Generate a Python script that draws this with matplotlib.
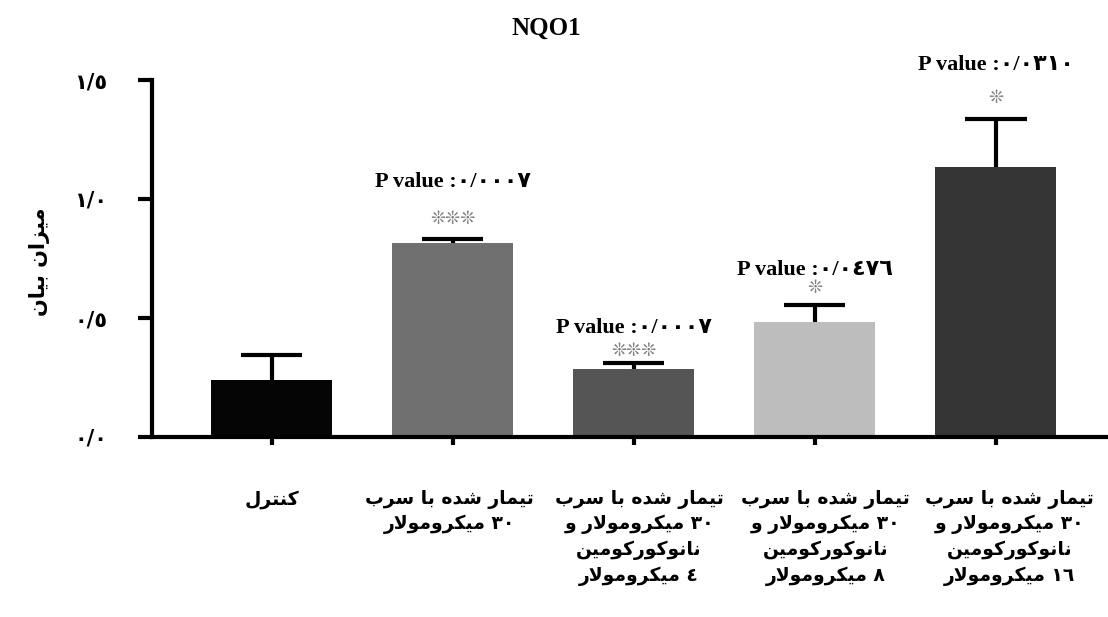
import matplotlib
matplotlib.use("Agg")
import matplotlib.pyplot as plt
import numpy as np

# --- data ---
groups = [
    "کنترل",
    "تیمار شده با سرب\n۳۰ میکرومولار",
    "تیمار شده با سرب\n۳۰ میکرومولار و\nنانوکورکومین\n٤ میکرومولار",
    "تیمار شده با سرب\n۳۰ میکرومولار و\nنانوکورکومین\n۸ میکرومولار",
    "تیمار شده با سرب\n۳۰ میکرومولار و\nنانوکورکومین\n١٦ میکرومولار",
]
means = [0.24, 0.815, 0.285, 0.483, 1.135]
errs = [0.105, 0.015, 0.027, 0.072, 0.20]
colors = ["#050505", "#707070", "#555555", "#bdbdbd", "#353535"]
pvalues = [None, "٠/٠٠٠٧", "٠/٠٠٠٧", "٠/٠٤٧٦", "٠/٠٣١٠"]
stars = [0, 3, 3, 1, 1]
yticks = [0.0, 0.5, 1.0, 1.5]
ytick_labels = ["٠/٠", "٠/٥", "١/٠", "١/٥"]
ylabel = "میزان بیان"
title = "NQO1"

# annotation offsets above each error bar (points): stars, p value, label shift
star_off = [0, 8, 2, 6, 9]
p_off = [0, 34, 18, 18, 32]
label_dx = [0, -2, 4, 8, 10]

# --- minimal Arabic/Persian shaping (matplotlib does not shape) ---
FORMS = {  # isolated, final, initial, medial
    "ا": ("\uFE8D", "\uFE8E", None, None),
    "ب": ("\uFE8F", "\uFE90", "\uFE91", "\uFE92"),
    "ت": ("\uFE95", "\uFE96", "\uFE97", "\uFE98"),
    "د": ("\uFEA9", "\uFEAA", None, None),
    "ر": ("\uFEAD", "\uFEAE", None, None),
    "ز": ("\uFEAF", "\uFEB0", None, None),
    "س": ("\uFEB1", "\uFEB2", "\uFEB3", "\uFEB4"),
    "ش": ("\uFEB5", "\uFEB6", "\uFEB7", "\uFEB8"),
    "ل": ("\uFEDD", "\uFEDE", "\uFEDF", "\uFEE0"),
    "م": ("\uFEE1", "\uFEE2", "\uFEE3", "\uFEE4"),
    "ن": ("\uFEE5", "\uFEE6", "\uFEE7", "\uFEE8"),
    "ه": ("\uFEE9", "\uFEEA", "\uFEEB", "\uFEEC"),
    "و": ("\uFEED", "\uFEEE", None, None),
    "ک": ("\uFB8E", "\uFB8F", "\uFB90", "\uFB91"),
    "ی": ("\uFBFC", "\uFBFD", "\uFBFE", "\uFBFF"),
}


def shape_word(w):
    out = []
    i = 0
    prev_joins = False
    while i < len(w):
        c = w[i]
        if c not in FORMS:
            out.append(c)
            prev_joins = False
            i += 1
            continue
        # lam-alef ligature
        if c == "ل" and i + 1 < len(w) and w[i + 1] == "ا":
            out.append("\uFEFC" if prev_joins else "\uFEFB")
            prev_joins = False
            i += 2
            continue
        nxt = w[i + 1] if i + 1 < len(w) else None
        can_fwd = FORMS[c][2] is not None
        next_joins = can_fwd and nxt in FORMS
        iso, fin, ini, med = FORMS[c]
        if prev_joins and next_joins:
            out.append(med)
        elif prev_joins:
            out.append(fin)
        elif next_joins:
            out.append(ini)
        else:
            out.append(iso)
        prev_joins = can_fwd
        i += 1
    return "".join(out)


def rtl(line):
    # words reversed for right-to-left display, letters shaped and reversed
    words = line.split(" ")
    vis = []
    for w in reversed(words):
        if any(ch in FORMS for ch in w):
            vis.append(shape_word(w)[::-1])
        else:
            vis.append(w)
    return " ".join(vis)


def rtl_lines(s):
    return "\n".join(rtl(l) for l in s.split("\n"))


arabic_font = ["DejaVu Sans"]
serif = ["Liberation Serif", "DejaVu Sans"]

fig = plt.figure(figsize=(11.08, 6.17), dpi=100)
ax = fig.add_axes([152 / 1108, 1 - 437 / 617, (1108 - 152) / 1108, 357 / 617])

x = np.arange(len(means))
tops = np.array(means) + np.array(errs)
ax.bar(x, means, width=0.67, color=colors, zorder=2)
# upper error bars only
ax.vlines(x, means, tops, colors="black", linewidth=3, zorder=3)
ax.hlines(tops, x - 0.17, x + 0.17, colors="black", linewidth=3, zorder=3)

ax.set_xlim(-0.66, 4.62)
ax.set_ylim(0, 1.5)
ax.set_yticks(yticks)
ax.set_yticklabels(ytick_labels, fontfamily=arabic_font, fontweight="bold", fontsize=15)
ax.set_xticks(x)
ax.set_xticklabels([])
ax.tick_params(axis="y", length=10, width=3, pad=22)
ax.tick_params(axis="x", length=6, width=3)

for s in ["top", "right"]:
    ax.spines[s].set_visible(False)
for s in ["left", "bottom"]:
    ax.spines[s].set_linewidth(3)

# group labels below the axis
for xi, g, dx in zip(x, groups, label_dx):
    ax.annotate(rtl_lines(g), (xi, 0), xytext=(dx, -38), textcoords="offset points",
                ha="center", va="top", fontsize=13.5, fontweight="bold",
                fontfamily=arabic_font, linespacing=1.38, annotation_clip=False)

# significance marks
for xi, t, p, n, so, po in zip(x, tops, pvalues, stars, star_off, p_off):
    if p is None:
        continue
    ax.annotate("❊" * n, (xi, t), xytext=(0, so), textcoords="offset points",
                ha="center", va="bottom", fontsize=13, color="#808080",
                fontfamily=["DejaVu Sans"])
    ax.annotate("P value :" + p, (xi, t), xytext=(0, po), textcoords="offset points",
                ha="center", va="bottom", fontsize=16, fontweight="bold",
                fontfamily=serif)

fig.text(546 / 1108, 1 - 28 / 617, title, ha="center", va="center",
         fontsize=18, fontweight="bold", fontfamily=serif)
fig.text(40 / 1108, 1 - 262 / 617, rtl(ylabel), rotation=90, ha="center", va="center",
         fontsize=15, fontweight="bold", fontfamily=arabic_font)

fig.savefig("out.png", dpi=100)
